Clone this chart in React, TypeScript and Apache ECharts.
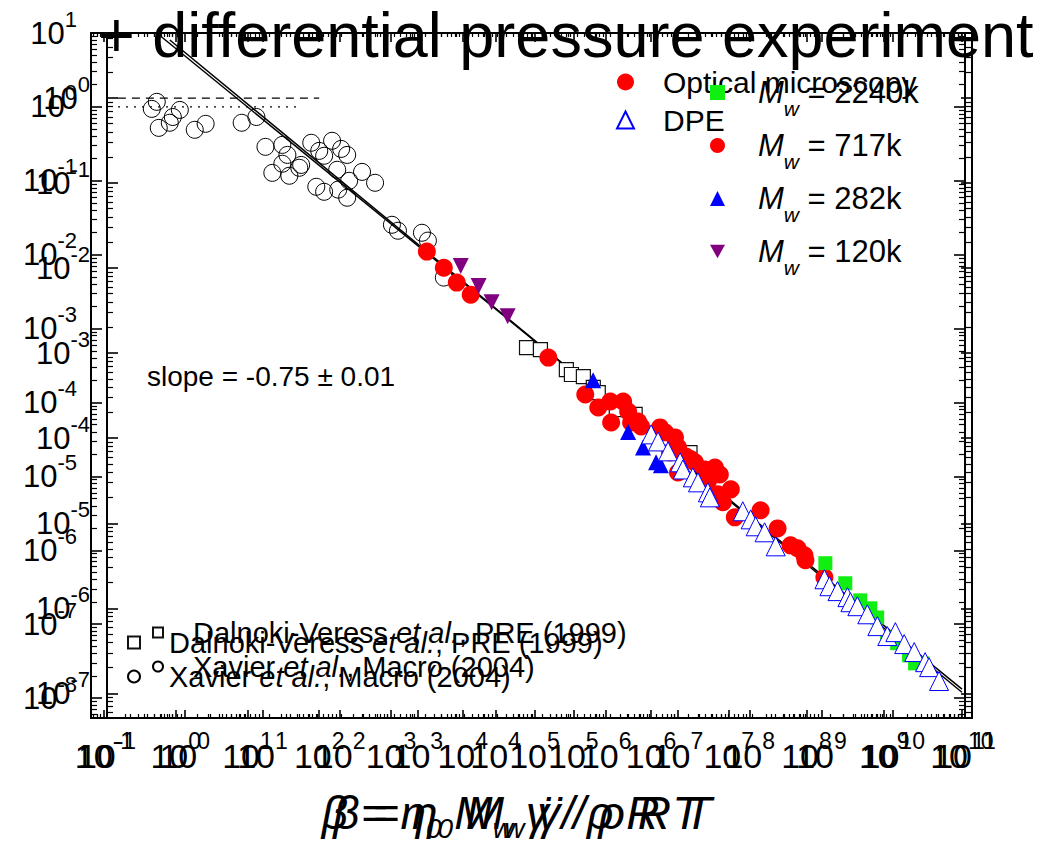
import React, { useEffect, useRef } from 'react';
import * as echarts from 'echarts';

const FONT = '"Liberation Sans", Arial, Helvetica, sans-serif';

// axis ranges (log10 exponents) of the two overlaid frames
const A_X = [-1.181, 11];
const A_Y = [-8.27, 1];
const B_X = [-1, 10.13];
const B_Y = [-7.29, 0.765];

// ---- frame A data: [beta, value]
const xavier: number[][] = [
  [0.544, 1.17], [0.464, 0.94], [0.58, 0.52], [0.826, 0.61], [0.91, 0.73], [1.14, 0.91],
  [1.84, 0.49], [2.61, 0.59], [8.3, 0.61], [13.3, 0.73], [17.8, 0.288], [30.6, 0.306],
  [36, 0.224], [30.6, 0.17], [22.2, 0.128], [38.3, 0.117], [52.7, 0.15], [56, 0.164],
  [77.4, 0.327], [100, 0.254], [117, 0.218], [151, 0.348], [202, 0.27], [245, 0.224],
  [178, 0.141], [261, 0.1], [245, 0.059], [117, 0.071], [91, 0.083], [184, 0.076],
  [395, 0.132], [600, 0.094], [1030, 0.0254], [1250, 0.0211], [2700, 0.0198],
  [3270, 0.0155], [5450, 0.0049],
];
const dalnoki: number[][] = [
  [7.74e4, 5.53e-4], [1.21e5, 5.2e-4], [2.78e5, 2.79e-4], [3.27e5, 2.39e-4], [4.8e5, 2.24e-4],
  [6.6e5, 1.6e-4], [7.74e5, 1.36e-4], [1.38e6, 8.0e-5], [2.53e6, 6.9e-5], [1.47e7, 2.1e-5],
];
const optical: number[][] = [
  [3.16e3, 1.1e-2], [5.45e3, 6.67e-3], [8.26e3, 4.19e-3], [1.29e4, 2.88e-3], [1.56e5, 4.05e-4],
  [5.1e5, 1.28e-4], [7.74e5, 8.55e-5], [1.14e6, 1.03e-4], [1.72e6, 1.03e-4], [1.17e6, 5.37e-5],
  [2.02e6, 7.55e-5], [2.22e6, 5.37e-5], [2.78e6, 5.53e-5], [3.06e6, 4.74e-5], [5.62e6, 4.6e-5],
  [6.6e6, 3.94e-5], [9.08e6, 3.37e-5], [1e7, 2.47e-5], [7.74e6, 2.11e-5], [1e7, 1.13e-5],
  [1.29e7, 1.86e-5], [1.52e7, 1.7e-5], [1.72e7, 1.55e-5], [2.37e7, 1.24e-5], [3.27e7, 1.32e-5],
  [3.83e7, 1.06e-5], [2.61e7, 8.56e-6], [3.59e7, 5.71e-6], [4.22e7, 4.46e-6], [5.45e7, 6.67e-6],
  [6.19e7, 2.79e-6],
];
const dpe: number[][] = [
  [4.22e6, 3.7e-5], [5.27e6, 2.97e-5], [7.26e6, 2.18e-5], [1.07e7, 1.55e-5], [1.17e7, 1.24e-5],
  [1.61e7, 9.7e-6], [1.9e7, 8.3e-6], [2.61e7, 6.08e-6], [2.78e7, 5.2e-6], [8.0e7, 3.37e-6],
  [1.03e8, 2.62e-6], [1.21e8, 2.11e-6], [1.61e8, 1.75e-6], [2.3e8, 1.13e-6], [1.1e9, 4.05e-7],
  [1.29e9, 3.26e-7], [1.67e9, 2.8e-7], [2.3e9, 2.32e-7], [2.53e9, 1.98e-7], [3.16e9, 1.75e-7],
  [4.35e9, 1.36e-7], [6.0e9, 9.4e-8], [8.26e9, 6.9e-8], [1.07e10, 7.8e-8], [1.42e10, 5.37e-8],
  [1.96e10, 4.19e-8], [2.78e10, 3.06e-8], [3.16e10, 2.62e-8], [4.35e10, 1.7e-8],
];
const fitA: number[][] = [[0.544, 10], [9.08e10, 1.32e-8]];
const levelA: number[][] = [[0.157, 1], [52.5, 1]];

// ---- frame B data
const mw2240: number[][] = [
  [1.75e8, 3.39e-6], [3.16e8, 1.97e-6], [4.92e8, 1.24e-6], [6.62e8, 1.0e-6], [8.13e8, 7.8e-7],
  [1.09e9, 4.56e-7], [1.47e9, 3.89e-7], [2.09e9, 2.8e-7], [2.5e9, 2.25e-7], [3.07e9, 2.25e-7],
];
const mw717: number[][] = [
  [2.57e7, 1.42e-5], [4.25e7, 8.7e-6], [6.24e7, 5.5e-6], [7.67e7, 5.08e-6], [9.42e7, 4.2e-6],
  [9.7e7, 3.67e-6], [1.7e8, 2.32e-6],
];
const mw282: number[][] = [
  [1.8e5, 4.8e-4], [5.07e5, 1.18e-4], [7.89e5, 7.8e-5], [1.16e6, 5.2e-5], [1.34e6, 4.8e-5],
];
const mw120: number[][] = [
  [3.56e3, 1.06e-2], [6.05e3, 6.15e-3], [8.89e3, 3.98e-3], [1.43e4, 2.72e-3],
];
const fitB: number[][] = [[0.643, 4.82], [1e10, 1.03e-7]];
const levelB: number[][] = [[0.138, 1], [53.7, 1]];

const MW_LABELS: Record<string, string> = {
  Mw2240: '2240k', Mw717: '717k', Mw282: '282k', Mw120: '120k',
};
const REF_NAMES = ['Dalnoki-Veress et al., PRE (1999)', 'Xavier et al., Macro (2004)'];

function majorVals(lo: number, hi: number) {
  const out: number[] = [];
  for (let e = Math.ceil(lo - 1e-9); e <= hi + 1e-9; e++) out.push(Math.pow(10, e));
  return out;
}
function minorVals(lo: number, hi: number) {
  const out: number[] = [];
  for (let e = Math.floor(lo); e <= Math.ceil(hi); e++) {
    for (let k = 2; k <= 9; k++) {
      const v = k * Math.pow(10, e);
      const l = Math.log10(v);
      if (l > lo && l < hi) out.push(v);
    }
  }
  return out;
}
function supFmt(v: number) {
  const e = Math.log10(v);
  const r = Math.round(e);
  if (Math.abs(e - r) > 1e-6) return '';
  return `{b|10}{s|${r}}`;
}

const xLabelRich = {
  b: { fontSize: 34, lineHeight: 54, fontFamily: FONT, color: '#000' },
  s: { fontSize: 23, lineHeight: 22, verticalAlign: 'top', fontFamily: FONT, color: '#000' },
};
const yLabelRich = {
  b: { fontSize: 31, lineHeight: 50, fontFamily: FONT, color: '#000' },
  s: { fontSize: 22, lineHeight: 17, verticalAlign: 'top', fontFamily: FONT, color: '#000' },
};
const nameRich = {
  i: { fontSize: 46, lineHeight: 58, fontStyle: 'italic', fontFamily: FONT, color: '#000' },
  sub: { fontSize: 28, lineHeight: 10, verticalAlign: 'bottom', fontStyle: 'italic', fontFamily: FONT, color: '#000' },
};
const AXIS_NAME = '{i|β = η}{sub|0}{i| M}{sub|w}{i| γ̇ / ρ R T}';

function axisPair(
  dim: 'x' | 'y', grid: number, pos: string, range: number[], major: boolean,
  tickLen: number, label: any,
) {
  const base: any = {
    type: 'log', logBase: 10, gridIndex: grid, position: pos,
    min: Math.pow(10, range[0]), max: Math.pow(10, range[1]),
    splitLine: { show: false }, minorTick: { show: false }, minorSplitLine: { show: false },
    axisPointer: { show: false },
  };
  if (major) {
    return {
      ...base,
      z: 3,
      axisLine: { show: true, onZero: false, lineStyle: { color: '#000', width: 2 } },
      axisTick: {
        show: true, inside: true, length: tickLen,
        customValues: majorVals(range[0], range[1]),
        lineStyle: { color: '#000', width: 1.6 },
      },
      axisLabel: label
        ? { show: true, ...label, customValues: majorVals(range[0], range[1]), formatter: supFmt }
        : { show: false },
    };
  }
  return {
    ...base,
    z: 3,
    axisLine: { show: false, onZero: false },
    axisTick: {
      show: true, inside: true, length: tickLen,
      customValues: minorVals(range[0], range[1]),
      lineStyle: { color: '#000', width: 1.2 },
    },
    axisLabel: { show: false },
  };
}

function buildOption() {
  const xAxis: any[] = [];
  const yAxis: any[] = [];
  const frames = [
    { gx: A_X, gy: A_Y, ylMargin: 14 },
    { gx: B_X, gy: B_Y, ylMargin: 17 },
  ];
  frames.forEach((f, g) => {
    const bottom = axisPair('x', g, 'bottom', f.gx, true, 8, {
      margin: 11, rich: xLabelRich, color: '#000',
    });
    bottom.name = AXIS_NAME;
    bottom.nameLocation = 'middle';
    bottom.nameGap = 66;
    bottom.nameTextStyle = { rich: nameRich, color: '#000', padding: [0, 34, 0, 0] };
    xAxis.push(bottom);
    xAxis.push(axisPair('x', g, 'bottom', f.gx, false, 4, null));
    xAxis.push(axisPair('x', g, 'top', f.gx, true, 9, null));
    xAxis.push(axisPair('x', g, 'top', f.gx, false, 4, null));
    yAxis.push(axisPair('y', g, 'left', f.gy, true, 11, {
      margin: f.ylMargin, rich: yLabelRich, color: '#000',
    }));
    yAxis.push(axisPair('y', g, 'left', f.gy, false, 6, null));
    yAxis.push(axisPair('y', g, 'right', f.gy, true, 11, null));
    yAxis.push(axisPair('y', g, 'right', f.gy, false, 6, null));
  });

  const A = { xAxisIndex: 0, yAxisIndex: 0 };
  const B = { xAxisIndex: 4, yAxisIndex: 4 };
  const line = (data: number[][], ax: any, type: any, width: number) => ({
    type: 'line', data, ...ax, symbol: 'none', silent: true, z: 1,
    lineStyle: { color: '#000', width, type },
  });
  const sc = (name: string, data: number[][], ax: any, symbol: string, size: number,
    itemStyle: any, z: number, extra: any = {}) => ({
    type: 'scatter', name, data, ...ax, symbol, symbolSize: size,
    itemStyle: { opacity: 1, ...itemStyle }, z,
    silent: true, ...extra,
  });

  const series: any[] = [
    line(fitA, A, 'solid', 1.5),
    line(fitB, B, 'solid', 1.5),
    line(levelA, A, [2, 6], 1.3),
    line(levelB, B, [8, 6], 1.3),
    sc(REF_NAMES[1], xavier, A, 'circle', 17, { color: 'rgba(255,255,255,0)', borderColor: '#000', borderWidth: 1 }, 2),
    sc(REF_NAMES[0], dalnoki, A, 'rect', 14, { color: '#fff', borderColor: '#111', borderWidth: 1.2 }, 3),
    sc('Optical microscopy', optical, A, 'circle', 18, { color: '#ff0000' }, 4),
    sc('Mw717', mw717, B, 'circle', 18, { color: '#ff0000' }, 4),
    sc('Mw282', mw282, B, 'triangle', 16, { color: '#0000ff' }, 4),
    sc('Mw120', mw120, B, 'triangle', 16, { color: '#800080' }, 4, { symbolRotate: 180 }),
    sc('Mw2240', mw2240, B, 'rect', 14, { color: '#11ee11' }, 5),
    sc('DPE', dpe, A, 'triangle', 19, { color: '#fff', borderColor: '#0000ff', borderWidth: 1 }, 6),
  ];

  const refFmt = (n: string) =>
    n.startsWith('Dalnoki')
      ? '{n|Dalnoki-Veress }{i|et al.}{n|, PRE (1999)}'
      : '{n|Xavier }{i|et al.}{n|, Macro (2004)}';
  const refRich = {
    n: { fontSize: 29, lineHeight: 35, fontFamily: FONT, color: '#000' },
    i: { fontSize: 29, lineHeight: 35, fontFamily: FONT, fontStyle: 'italic', color: '#000' },
  };
  const legBase = {
    orient: 'vertical', padding: 0, selectedMode: false, z: 8,
  };

  return {
    animation: false,
    backgroundColor: '#fff',
    title: {
      text: '+ differential pressure experiment', left: 98, top: 3, padding: 0, z: 9,
      textStyle: { fontSize: 63, fontWeight: 'normal', fontFamily: FONT, color: '#000' },
    },
    grid: [
      { left: 91, top: 33, width: 874, height: 685, containLabel: false },
      { left: 107, top: 33, width: 865, height: 685, containLabel: false },
    ],
    xAxis, yAxis, series,
    legend: [
      {
        ...legBase, data: ['Optical microscopy', 'DPE'], left: 616, top: 63, itemGap: 0,
        itemWidth: 17, itemHeight: 17,
        textStyle: { fontSize: 30, lineHeight: 38, fontFamily: FONT, color: '#000', padding: [0, 0, 0, 24] },
      },
      {
        ...legBase,
        data: ['Mw2240', 'Mw717', 'Mw282', { name: 'Mw120', icon: 'path://M0,0L10,0L5,9Z' }],
        left: 710, top: 77, itemGap: 11,
        itemWidth: 15, itemHeight: 15,
        formatter: (n: string) => `{i|M}{sub|w}{n| = ${MW_LABELS[n]}}`,
        textStyle: {
          color: '#000', padding: [0, 0, 0, 28],
          rich: {
            i: { fontSize: 31, lineHeight: 53, fontStyle: 'italic', fontFamily: FONT, color: '#000' },
            sub: { fontSize: 21, lineHeight: 7, verticalAlign: 'bottom', fontStyle: 'italic', fontFamily: FONT, color: '#000' },
            n: { fontSize: 31, lineHeight: 53, fontFamily: FONT, color: '#000' },
          },
        },
      },
      {
        ...legBase, data: REF_NAMES, left: 127, top: 628, itemGap: 5, itemWidth: 12, itemHeight: 12,
        formatter: refFmt,
        textStyle: { color: '#000', padding: [0, 0, 0, 24], rich: refRich },
      },
      {
        ...legBase, data: REF_NAMES, left: 152, top: 618, itemGap: 5, itemWidth: 10, itemHeight: 10,
        formatter: refFmt,
        textStyle: { color: '#000', padding: [0, 0, 0, 25], rich: refRich },
      },
    ],
    graphic: [
      {
        type: 'text', left: 147, top: 362, z: 10,
        style: { text: 'slope = -0.75 ± 0.01', fontSize: 28, fontFamily: FONT, fill: '#000' },
      },
    ],
  };
}

export default function App() {
  const ref = useRef<HTMLDivElement>(null);
  useEffect(() => {
    document.body.style.margin = '0';
    if (!ref.current) return;
    const chart = echarts.init(ref.current, undefined, { renderer: 'svg' });
    chart.setOption(buildOption() as any);
    return () => chart.dispose();
  }, []);
  return <div ref={ref} style={{ width: 1053, height: 853 }} />;
}
